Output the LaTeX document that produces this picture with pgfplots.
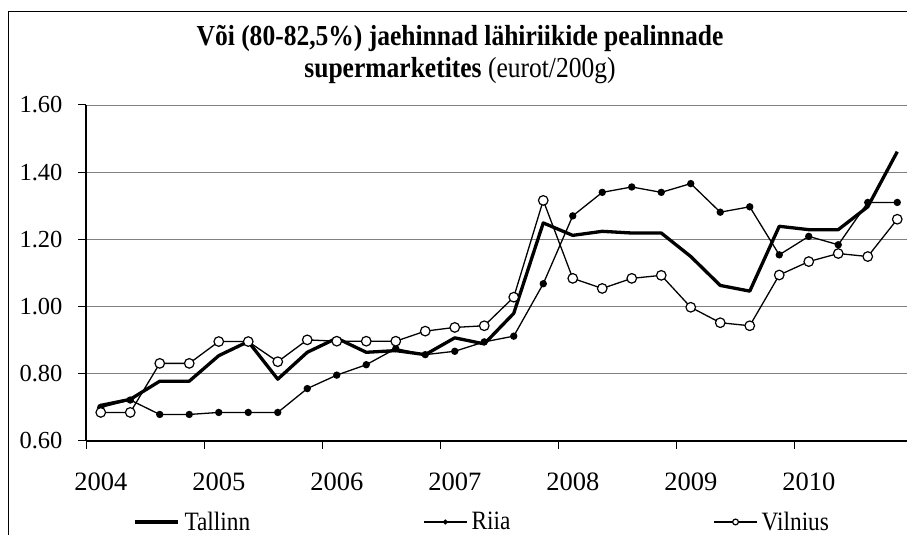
\documentclass[border=0pt]{standalone}
\usepackage{fontspec}
\setmainfont{Liberation Serif}
\newfontfamily\tallserif{Liberation Serif}[FakeStretch=0.88]
\usepackage{pgfplots}
\pgfplotsset{compat=1.18}

% quarterly prices, 2004 Q1 = 0 ... 2010 Q4 = 27
\pgfplotstableread{
q  tal   riia  vil
0  0.706 0.700 0.685
1  0.724 0.722 0.685
2  0.778 0.679 0.831
3  0.778 0.679 0.831
4  0.854 0.685 0.896
5  0.896 0.685 0.896
6  0.784 0.685 0.836
7  0.864 0.756 0.901
8  0.906 0.796 0.897
9  0.864 0.827 0.897
10 0.869 0.875 0.897
11 0.857 0.857 0.927
12 0.907 0.867 0.938
13 0.889 0.895 0.943
14 0.980 0.912 1.028
15 1.249 1.068 1.316
16 1.212 1.270 1.084
17 1.224 1.340 1.054
18 1.219 1.356 1.084
19 1.219 1.340 1.093
20 1.149 1.366 0.998
21 1.063 1.281 0.952
22 1.046 1.297 0.943
23 1.239 1.154 1.094
24 1.229 1.209 1.134
25 1.229 1.184 1.158
26 1.297 1.310 1.149
27 1.461 1.310 1.260
}\prices

\begin{document}
\begin{tikzpicture}
\useasboundingbox (0pt,0pt) rectangle (907pt,535pt);
\draw[line width=1pt] (8pt,0pt) -- (8pt,523pt) -- (907pt,523pt);
\node[anchor=base, font=\tallserif\fontsize{29}{33}\selectfont\bfseries] at (460pt,489pt)
  {Või (80-82,5\%) jaehinnad lähiriikide pealinnade};
\node[anchor=base, font=\tallserif\fontsize{29}{33}\selectfont] at (460pt,457pt)
  {\textbf{supermarketites} (eurot/200g)};

\begin{axis}[
  at={(86pt,94pt)}, anchor=south west,
  scale only axis, width=826pt, height=336pt,
  xmin=-0.5, xmax=27.5, ymin=0.6, ymax=1.6,
  axis x line=bottom, axis y line=left,
  axis line style={-, line width=1.2pt, black},
  ytick={0.6,0.8,1.0,1.2,1.4,1.6},
  ymajorgrids, grid style={line width=0.9pt, gray},
  tick align=outside, major tick length=8pt,
  tick style={line width=1pt, black},
  xtick={-0.5,3.5,7.5,11.5,15.5,19.5,23.5,27.5},
  xticklabels={2004,2005,2006,2007,2008,2009,2010,},
  xticklabel shift=20pt,
  xticklabel style={xshift=14.75pt, font=\fontsize{26.5}{30}\selectfont},
  yticklabel style={xshift=-12pt, font=\fontsize{24.5}{28}\selectfont,
    /pgf/number format/.cd, fixed, fixed zerofill, precision=2},
  /pgf/number format/assume math mode=true,
  legend columns=3,
  legend style={at={(0.0569,-0.241)}, anchor=west, draw=none, fill=none,
    inner sep=0pt, font=\tallserif\fontsize{26.5}{30}\selectfont, nodes={inner sep=0pt},
    /tikz/column 1/.style={column sep=5pt},
    /tikz/column 2/.style={column sep=173pt},
    /tikz/column 3/.style={column sep=4pt},
    /tikz/column 4/.style={column sep=203pt},
    /tikz/column 5/.style={column sep=4pt}},
  legend image code/.code={\draw[mark repeat=2,mark phase=2,#1]
    plot coordinates {(0pt,0pt) (21.5pt,0pt) (43pt,0pt)};},
  legend image post style={every mark/.append style={scale=0.6}},
]
\addplot[black, line width=3.3pt, line join=round] table[x=q,y=tal]{\prices};
\addlegendentry{Tallinn}
\addplot[black, line width=1.3pt, mark=*, mark size=3pt] table[x=q,y=riia]{\prices};
\addlegendentry{Riia}
\addplot[black, line width=1.3pt, mark=*, mark size=4.8pt,
  mark options={fill=white, line width=1.2pt}] table[x=q,y=vil]{\prices};
\addlegendentry{Vilnius}
\end{axis}
\end{tikzpicture}
\end{document}
